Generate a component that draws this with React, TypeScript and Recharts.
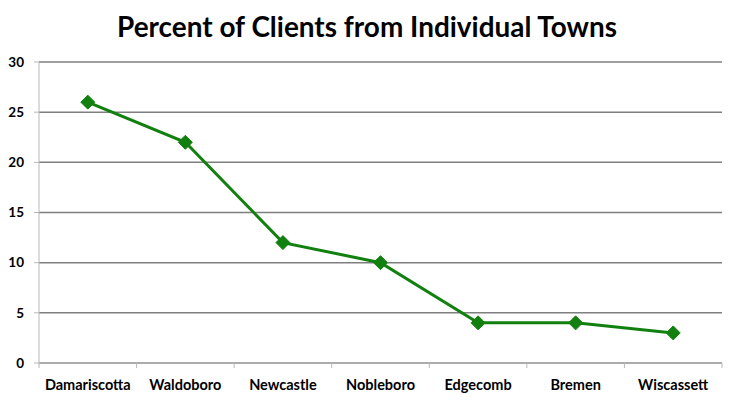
import React from 'react';
import { LineChart, Line, XAxis, YAxis, CartesianGrid } from 'recharts';

// Chart data
const towns = ['Damariscotta', 'Waldoboro', 'Newcastle', 'Nobleboro', 'Edgecomb', 'Bremen', 'Wiscassett'];
const percents = [26, 22, 12, 10, 4, 4, 3];
const yTicks = [0, 5, 10, 15, 20, 25, 30];

// each town sits in the middle of its slot on a 0..7 axis
const data = towns.map((town, i) => ({ town, pos: i + 0.5, percent: percents[i] }));
const xTicks = Array.from({ length: towns.length * 2 + 1 }, (_, i) => i / 2);

const GREEN = '#12800f';
const AXIS = '#b8b8b8';
const FONT = 'Lato, "Open Sans", sans-serif';

// diamond marker
const Diamond = (props: any) => {
  const { cx, cy } = props;
  if (cx == null || cy == null) return null;
  const r = 7;
  return (
    <polygon
      points={`${cx},${cy - r} ${cx + r},${cy} ${cx},${cy + r} ${cx - r},${cy}`}
      fill={GREEN}
      stroke={GREEN}
    />
  );
};

// boundaries get a tick mark, slot centres get the town name
const TownTick = (props: any) => {
  const { x, y, payload } = props;
  const v = payload.value as number;
  if (Number.isInteger(v)) {
    return <line x1={x} x2={x} y1={y} y2={y + 5} stroke={AXIS} />;
  }
  const name = towns[Math.floor(v)];
  return (
    <text
      x={x}
      y={y + 27}
      textAnchor="middle"
      fontFamily={FONT}
      fontWeight={700}
      fontSize={14.5}
      fill="#000"
    >
      {name}
    </text>
  );
};

export default function App() {
  return (
    <div style={{ position: 'absolute', left: 0, top: 0, width: 729, height: 406, background: '#fff' }}>
      <svg width={729} height={50} style={{ position: 'absolute', left: 0, top: 0 }}>
        <text
          x={367}
          y={37}
          textAnchor="middle"
          fontFamily={FONT}
          fontWeight={700}
          fontSize={28}
          textLength={500}
          lengthAdjust="spacingAndGlyphs"
          fill="#000"
        >
          Percent of Clients from Individual Towns
        </text>
      </svg>
      <LineChart
        width={729}
        height={406}
        data={data}
        margin={{ top: 62, right: 7, left: 9, bottom: 0 }}
      >
        <CartesianGrid vertical={false} stroke="#7f7f7f" strokeWidth={1.5} />
        <XAxis
          dataKey="pos"
          type="number"
          domain={[0, towns.length]}
          ticks={xTicks}
          interval={0}
          height={43}
          stroke={AXIS}
          tickLine={false}
          tickSize={0}
          tickMargin={0}
          tick={<TownTick />}
        />
        <YAxis
          width={30}
          domain={[0, 30]}
          ticks={yTicks}
          stroke={AXIS}
          tickSize={5}
          tickMargin={10}
          tick={{ fill: '#000', fontSize: 13.5, fontWeight: 700, fontFamily: FONT }}
        />
        <Line
          type="linear"
          dataKey="percent"
          stroke={GREEN}
          strokeWidth={3}
          dot={<Diamond />}
          activeDot={false}
          isAnimationActive={false}
        />
      </LineChart>
    </div>
  );
}
